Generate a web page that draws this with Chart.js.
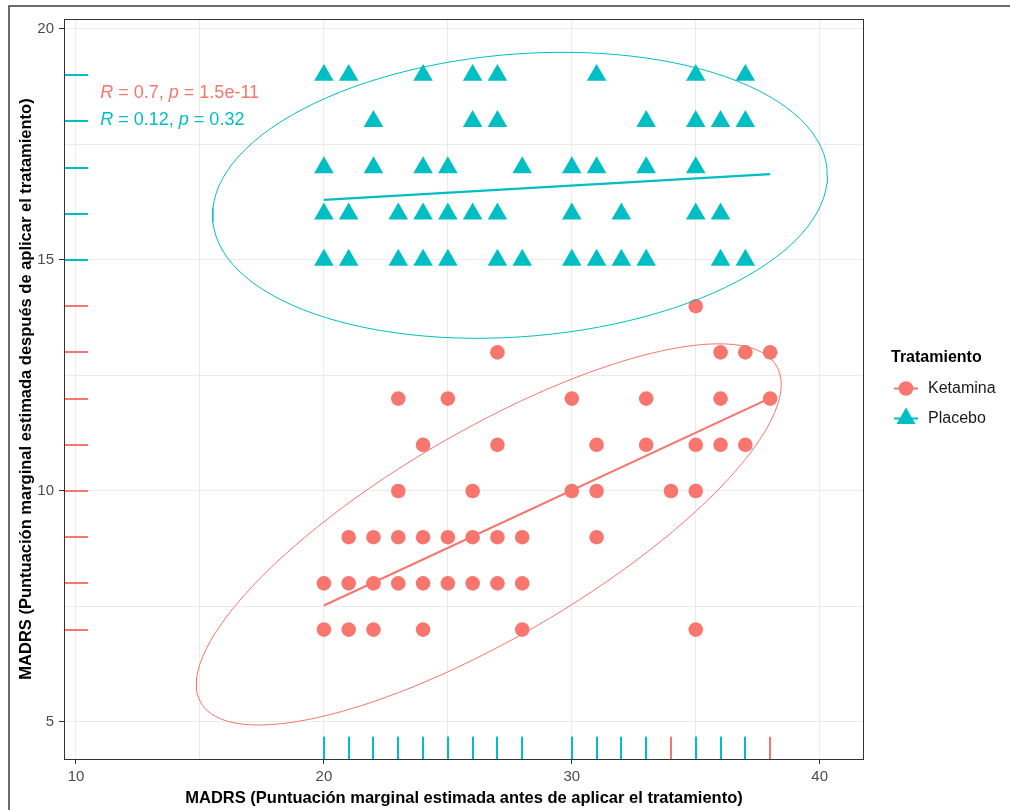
<!DOCTYPE html>
<html>
<head>
<meta charset="utf-8">
<script src="https://cdn.jsdelivr.net/npm/chart.js@4.4.1/dist/chart.umd.min.js"></script>
<style>
  html, body { margin: 0; padding: 0; background: #ffffff; }
  #wrap { width: 1010px; height: 810px; }
</style>
</head>
<body>
<div id="wrap"><canvas id="chart" width="1010" height="810"></canvas></div>
<script>
// ---- Data: MADRS before (x) vs after (y) treatment ----
const ketaminaX = [35,
  27, 36, 37, 38,
  23, 25, 30, 33, 36, 38,
  24, 27, 31, 33, 35, 36, 37,
  23, 26, 30, 31, 34, 35,
  21, 22, 23, 24, 25, 26, 27, 28, 31,
  20, 21, 22, 23, 24, 25, 26, 27, 28,
  20, 21, 22, 24, 28, 35];
const ketaminaY = [14,
  13, 13, 13, 13,
  12, 12, 12, 12, 12, 12,
  11, 11, 11, 11, 11, 11, 11,
  10, 10, 10, 10, 10, 10,
  9, 9, 9, 9, 9, 9, 9, 9, 9,
  8, 8, 8, 8, 8, 8, 8, 8, 8,
  7, 7, 7, 7, 7, 7];

const placeboX = [20, 21, 24, 26, 27, 31, 35, 37,
  22, 26, 27, 33, 35, 36, 37,
  20, 22, 24, 25, 28, 30, 31, 33, 35,
  20, 21, 23, 24, 25, 26, 27, 30, 32, 35, 36,
  20, 21, 23, 24, 25, 27, 28, 30, 31, 32, 33, 36, 37];
const placeboY = [19, 19, 19, 19, 19, 19, 19, 19,
  18, 18, 18, 18, 18, 18, 18,
  17, 17, 17, 17, 17, 17, 17, 17, 17,
  16, 16, 16, 16, 16, 16, 16, 16, 16, 16, 16,
  15, 15, 15, 15, 15, 15, 15, 15, 15, 15, 15, 15, 15];

// Linear fits (lm) over the observed x range
const fitX = [20, 38];
const ketaminaFit = [7.52, 12.01];
const placeboFit = [16.30, 16.86];

// 95% data ellipses: centre and scaled shape matrix [[sxx, sxy], [sxy, syy]]
const ketaminaEllipseCenter = [26.65, 9.06];
const ketaminaEllipseShape = [[139.2, 38.3], [38.3, 17.02]];
const placeboEllipseCenter = [27.91, 16.40];
const placeboEllipseShape = [[153.8, 5.33], [5.33, 9.58]];

// Correlation labels
const ketaminaStat = { R: '0.7', p: '1.5e-11' };
const placeboStat = { R: '0.12', p: '0.32' };

// Axis breaks and labels
const xBreaks = [10, 15, 20, 25, 30, 35, 40];
const xTickLabels = [10, 20, 30, 40];
const yBreaks = [5, 7.5, 10, 12.5, 15, 17.5, 20];
const yTickLabels = [5, 10, 15, 20];

const seriesNames = ['Ketamina', 'Placebo'];
const RED = '#F8766D';
const CYAN = '#00BFC4';
const FONT = '"Liberation Sans", Arial, Helvetica, sans-serif';

function zipXY(xs, ys) { return xs.map((x, i) => ({ x: x, y: ys[i] })); }

// Outline of an ellipse: centre + unit circle mapped through the Cholesky factor of the shape
function ellipseOutline(center, shape, segments) {
  const l11 = Math.sqrt(shape[0][0]);
  const l21 = shape[0][1] / l11;
  const l22 = Math.sqrt(shape[1][1] - l21 * l21);
  const pts = [];
  for (let i = 0; i <= segments; i++) {
    const t = (i / segments) * 2 * Math.PI;
    const c = Math.cos(t), s = Math.sin(t);
    pts.push({ x: center[0] + l11 * c, y: center[1] + l21 * c + l22 * s });
  }
  return pts;
}

function drawTriangle(ctx, x, y, r) {
  ctx.beginPath();
  for (let k = 0; k < 3; k++) {
    const a = k * 2 * Math.PI / 3;
    const px = x + Math.sin(a) * r, py = y - Math.cos(a) * r;
    if (k === 0) ctx.moveTo(px, py); else ctx.lineTo(px, py);
  }
  ctx.closePath();
  ctx.fill();
}

function drawRich(ctx, parts, x, y, color) {
  ctx.fillStyle = color;
  ctx.textBaseline = 'alphabetic';
  ctx.textAlign = 'left';
  parts.forEach(([text, italic]) => {
    ctx.font = (italic ? 'italic ' : '') + '18px ' + FONT;
    ctx.fillText(text, x, y);
    x += ctx.measureText(text).width;
  });
}

const panelDecor = {
  id: 'panelDecor',
  beforeDraw(chart) {
    const ctx = chart.ctx;
    ctx.save();
    ctx.fillStyle = '#ffffff';
    ctx.fillRect(0, 0, chart.width, chart.height);
    // outer frame (top and left edges)
    ctx.strokeStyle = '#3c3c3c';
    ctx.lineWidth = 1.5;
    ctx.beginPath();
    ctx.moveTo(9, chart.height);
    ctx.lineTo(9, 6);
    ctx.lineTo(chart.width, 6);
    ctx.stroke();
    ctx.restore();
  },
  afterDatasetsDraw(chart) {
    const ctx = chart.ctx;
    const area = chart.chartArea;
    const sx = chart.scales.x, sy = chart.scales.y;
    ctx.save();

    // rug marks along both axes
    const rugX = area.height * 0.03, rugY = area.width * 0.03;
    [[ketaminaX, ketaminaY, RED], [placeboX, placeboY, CYAN]].forEach(([xs, ys, col]) => {
      ctx.strokeStyle = col;
      ctx.lineWidth = 2;
      ctx.beginPath();
      new Set(xs).forEach(v => {
        const px = Math.round(sx.getPixelForValue(v));
        ctx.moveTo(px, area.bottom);
        ctx.lineTo(px, area.bottom - rugX);
      });
      new Set(ys).forEach(v => {
        const py = Math.round(sy.getPixelForValue(v));
        ctx.moveTo(area.left, py);
        ctx.lineTo(area.left + rugY, py);
      });
      ctx.stroke();
    });

    // panel border
    ctx.strokeStyle = '#333333';
    ctx.lineWidth = 1;
    ctx.strokeRect(area.left + 0.5, area.top + 0.5, area.right - area.left - 1, area.bottom - area.top);

    // correlation labels
    const lx = sx.getPixelForValue(10.98);
    drawRich(ctx, [['R', true], [' = ' + ketaminaStat.R + ', ', false], ['p', true], [' = ' + ketaminaStat.p, false]],
      lx, sy.getPixelForValue(18.51), RED);
    drawRich(ctx, [['R', true], [' = ' + placeboStat.R + ', ', false], ['p', true], [' = ' + placeboStat.p, false]],
      lx, sy.getPixelForValue(17.93), CYAN);

    // legend
    ctx.fillStyle = '#000000';
    ctx.font = 'bold 16px ' + FONT;
    ctx.textBaseline = 'middle';
    ctx.textAlign = 'left';
    ctx.fillText('Tratamiento', 891, 358);
    const keys = [[RED, 'circle', 388.5], [CYAN, 'triangle', 418.5]];
    keys.forEach(([col, shape, ky], i) => {
      const kx = 906;
      ctx.strokeStyle = col;
      ctx.lineWidth = 2;
      ctx.beginPath();
      ctx.moveTo(894, ky);
      ctx.lineTo(918, ky);
      ctx.stroke();
      ctx.fillStyle = col;
      if (shape === 'circle') {
        ctx.beginPath();
        ctx.arc(kx, ky, 7.3, 0, 2 * Math.PI);
        ctx.fill();
      } else {
        drawTriangle(ctx, kx, ky, 11);
      }
      ctx.fillStyle = '#1a1a1a';
      ctx.font = '16px ' + FONT;
      ctx.fillText(seriesNames[i], 928, ky + 0.5);
    });
    ctx.restore();
  }
};

const majorTickColor = (labels) => (c) => (c.tick && labels.includes(c.tick.value)) ? '#333333' : 'rgba(0,0,0,0)';

new Chart(document.getElementById('chart'), {
  type: 'scatter',
  data: {
    datasets: [
      {
        label: seriesNames[0] + ' ajuste',
        type: 'line',
        data: zipXY(fitX, ketaminaFit),
        borderColor: RED, borderWidth: 2.2, pointRadius: 0, fill: false, order: 1
      },
      {
        label: seriesNames[1] + ' ajuste',
        type: 'line',
        data: zipXY(fitX, placeboFit),
        borderColor: CYAN, borderWidth: 2.2, pointRadius: 0, fill: false, order: 1
      },
      {
        label: seriesNames[0] + ' elipse',
        type: 'line',
        data: ellipseOutline(ketaminaEllipseCenter, ketaminaEllipseShape, 120),
        borderColor: RED, borderWidth: 1, pointRadius: 0, fill: false, tension: 0, order: 2
      },
      {
        label: seriesNames[1] + ' elipse',
        type: 'line',
        data: ellipseOutline(placeboEllipseCenter, placeboEllipseShape, 120),
        borderColor: CYAN, borderWidth: 1, pointRadius: 0, fill: false, tension: 0, order: 2
      },
      {
        label: seriesNames[0],
        data: zipXY(ketaminaX, ketaminaY),
        pointStyle: 'circle', pointRadius: 7.3, borderWidth: 0,
        backgroundColor: RED, borderColor: RED, order: 3
      },
      {
        label: seriesNames[1],
        data: zipXY(placeboX, placeboY),
        pointStyle: 'triangle', pointRadius: 11.3, borderWidth: 0,
        backgroundColor: CYAN, borderColor: CYAN, order: 3
      }
    ]
  },
  options: {
    responsive: false,
    animation: false,
    devicePixelRatio: 1,
    layout: { padding: { top: 19, right: 146, left: 0, bottom: 0 } },
    plugins: { legend: { display: false }, tooltip: { enabled: false } },
    scales: {
      x: {
        type: 'linear',
        min: 9.516, max: 41.787,
        afterFit: (s) => { s.height = 51; },
        afterBuildTicks: (s) => { s.ticks = xBreaks.map(v => ({ value: v })); },
        grid: { color: '#EBEBEB', lineWidth: 1, tickLength: 5, tickColor: majorTickColor(xTickLabels) },
        border: { display: false },
        ticks: {
          autoSkip: false, maxRotation: 0, padding: 4,
          color: '#4D4D4D', font: { family: FONT, size: 15 },
          callback: (v) => xTickLabels.includes(v) ? String(v) : ''
        },
        title: {
          display: true,
          text: 'MADRS (Puntuación marginal estimada antes de aplicar el tratamiento)',
          color: '#000000', font: { family: FONT, size: 16.5, weight: 'bold' },
          padding: { top: 0, bottom: 2.1 }
        }
      },
      y: {
        type: 'linear',
        min: 4.199, max: 20.216,
        afterFit: (s) => { s.width = 64; },
        afterBuildTicks: (s) => { s.ticks = yBreaks.map(v => ({ value: v })); },
        grid: { color: '#EBEBEB', lineWidth: 1, tickLength: 5, tickColor: majorTickColor(yTickLabels) },
        border: { display: false },
        ticks: {
          autoSkip: false, padding: 5,
          color: '#4D4D4D', font: { family: FONT, size: 15 },
          callback: (v) => yTickLabels.includes(v) ? String(v) : ''
        },
        title: {
          display: true,
          text: 'MADRS (Puntuación marginal estimada después de aplicar el tratamiento)',
          color: '#000000', font: { family: FONT, size: 16.5, weight: 'bold' },
          padding: { top: 16.1, bottom: 0 }
        }
      }
    }
  },
  plugins: [panelDecor]
});
</script>
</body>
</html>
